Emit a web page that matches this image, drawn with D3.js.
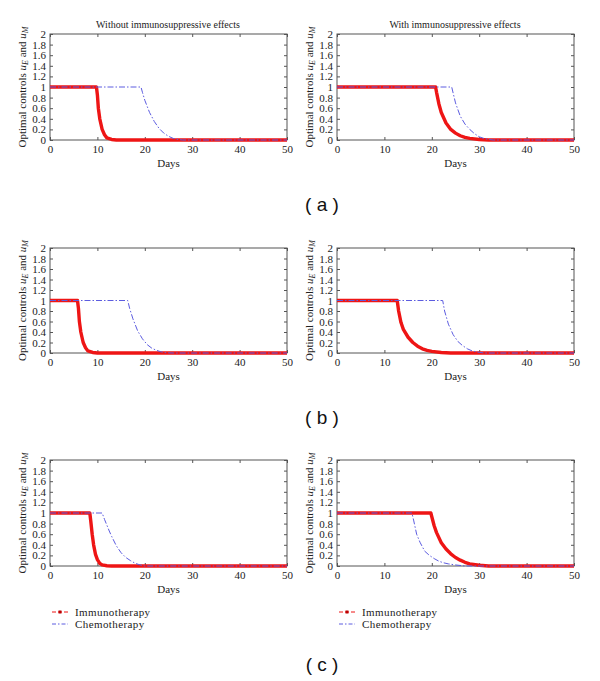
<!DOCTYPE html>
<html>
<head>
<meta charset="utf-8">
<script src="https://cdn.jsdelivr.net/npm/d3@7"></script>
<style>
  html, body { margin: 0; padding: 0; background: #fff; }
  svg { display: block; }
  .tick text { font-family: "Liberation Serif", "DejaVu Serif", serif; font-size: 11px; fill: #222; }
</style>
</head>
<body>
<svg id="chart" width="600" height="681"></svg>
<script>
// ---------- data ----------
const panelTitles = ["Without immunosuppressive effects", "With immunosuppressive effects"];
const rowLabels = ["( a )", "( b )", "( c )"];
const xTicks = [0, 10, 20, 30, 40, 50];
const yTicks = [0, 0.2, 0.4, 0.6, 0.8, 1, 1.2, 1.4, 1.6, 1.8, 2];
const legendLabels = ["Immunotherapy", "Chemotherapy"];

// (a) left
const aLeftImmunoT = [0, 9.8, 10, 10.2, 10.5, 11, 11.5, 12, 13, 14, 50];
const aLeftImmunoU = [1, 1, 0.85, 0.6, 0.4, 0.2, 0.1, 0.04, 0.01, 0, 0];
const aLeftChemoT = [0, 19.2, 19.5, 20, 21, 22, 23, 24, 25, 26, 27, 28, 50];
const aLeftChemoU = [1, 1, 0.9, 0.75, 0.52, 0.35, 0.22, 0.13, 0.07, 0.03, 0.01, 0, 0];
// (a) right
const aRightImmunoT = [0, 20.8, 21, 21.5, 22, 23, 24, 25, 26, 27, 28, 30, 32, 50];
const aRightImmunoU = [1, 1, 0.9, 0.68, 0.52, 0.32, 0.2, 0.13, 0.08, 0.05, 0.03, 0.01, 0, 0];
const aRightChemoT = [0, 24.2, 25, 26, 27, 28, 29, 30, 31, 32, 33, 50];
const aRightChemoU = [1, 1, 0.7, 0.45, 0.3, 0.2, 0.12, 0.06, 0.03, 0.01, 0, 0];
// (b) left
const bLeftImmunoT = [0, 5.8, 6, 6.2, 6.5, 7, 7.5, 8, 9, 10, 50];
const bLeftImmunoU = [1, 1, 0.85, 0.6, 0.4, 0.2, 0.1, 0.04, 0.01, 0, 0];
const bLeftChemoT = [0, 16.4, 16.8, 17.5, 18.5, 19.5, 20.5, 21.5, 22.5, 23.5, 24.5, 26, 50];
const bLeftChemoU = [1, 1, 0.85, 0.65, 0.42, 0.27, 0.16, 0.09, 0.05, 0.02, 0.005, 0, 0];
// (b) right
const bRightImmunoT = [0, 12.7, 13, 13.5, 14, 15, 16, 17, 18, 19, 20, 22, 24, 50];
const bRightImmunoU = [1, 1, 0.8, 0.58, 0.45, 0.3, 0.2, 0.13, 0.08, 0.05, 0.03, 0.01, 0, 0];
const bRightChemoT = [0, 22.3, 22.7, 23.5, 24.5, 25.5, 26.5, 27.5, 28.5, 29.5, 31, 50];
const bRightChemoU = [1, 1, 0.8, 0.55, 0.35, 0.22, 0.14, 0.08, 0.04, 0.02, 0, 0];
// (c) left
const cLeftImmunoT = [0, 8.4, 8.6, 8.9, 9.2, 9.6, 10, 10.5, 11, 12, 13, 50];
const cLeftImmunoU = [1, 1, 0.85, 0.6, 0.4, 0.22, 0.12, 0.05, 0.02, 0.005, 0, 0];
const cLeftChemoT = [0, 11, 11.5, 12, 12.5, 13, 14, 15, 16, 17, 18, 19, 20, 50];
const cLeftChemoU = [1, 1, 0.88, 0.77, 0.66, 0.56, 0.38, 0.25, 0.16, 0.1, 0.05, 0.02, 0, 0];
// (c) right
const cRightImmunoT = [0, 19.8, 20, 20.5, 21, 22, 23, 24, 25, 26, 27, 28, 30, 32, 50];
const cRightImmunoU = [1, 1, 0.93, 0.76, 0.63, 0.44, 0.32, 0.23, 0.16, 0.11, 0.07, 0.04, 0.015, 0, 0];
const cRightChemoT = [0, 15.8, 16.2, 16.8, 17.5, 18.5, 19.5, 20.5, 21.5, 22.5, 23.5, 25, 27, 50];
const cRightChemoU = [1, 1, 0.85, 0.6, 0.45, 0.28, 0.2, 0.14, 0.09, 0.06, 0.04, 0.02, 0, 0];

const seriesGrid = [
  [[aLeftImmunoT, aLeftImmunoU, aLeftChemoT, aLeftChemoU], [aRightImmunoT, aRightImmunoU, aRightChemoT, aRightChemoU]],
  [[bLeftImmunoT, bLeftImmunoU, bLeftChemoT, bLeftChemoU], [bRightImmunoT, bRightImmunoU, bRightChemoT, bRightChemoU]],
  [[cLeftImmunoT, cLeftImmunoU, cLeftChemoT, cLeftChemoU], [cRightImmunoT, cRightImmunoU, cRightChemoT, cRightChemoU]]
];

// ---------- layout ----------
const colX = [[50, 287], [337, 574]];
const rowY = [[34, 140], [248, 353], [460, 566]];
const rowLabelY = [211, 424, 671];
const serif = '"Liberation Serif", "DejaVu Serif", serif';
const sans = '"Liberation Sans", Arial, sans-serif';
const redC = "#ee1515";
const blueC = "#5c5ce0";

const svg = d3.select("#chart");

function zip(ts, us) { return ts.map((t, i) => [t, us[i]]); }

rowY.forEach((ry, r) => {
  colX.forEach((cx, c) => {
    const x = d3.scaleLinear().domain([0, 50]).range(cx);
    const y = d3.scaleLinear().domain([0, 2]).range([ry[1], ry[0]]);
    const g = svg.append("g");

    // frame
    g.append("rect").attr("x", cx[0]).attr("y", ry[0])
      .attr("width", cx[1] - cx[0]).attr("height", ry[1] - ry[0])
      .attr("fill", "none").attr("stroke", "#555").attr("stroke-width", 1);

    // axes (inward ticks)
    g.append("g").attr("transform", `translate(0,${ry[1]})`)
      .call(d3.axisBottom(x).tickValues(xTicks).tickFormat(d3.format("d")).tickSizeInner(-3).tickSizeOuter(0).tickPadding(5));
    g.append("g").attr("transform", `translate(${cx[0]},0)`)
      .call(d3.axisLeft(y).tickValues(yTicks).tickFormat(d => d3.format("")(+d.toFixed(1))).tickSizeInner(-3).tickSizeOuter(0).tickPadding(4));
    g.append("g").attr("transform", `translate(0,${ry[0]})`)
      .call(d3.axisTop(x).tickValues(xTicks).tickFormat("").tickSizeInner(-3).tickSizeOuter(0));
    g.append("g").attr("transform", `translate(${cx[1]},0)`)
      .call(d3.axisRight(y).tickValues(yTicks).tickFormat("").tickSizeInner(-3).tickSizeOuter(0));
    g.selectAll(".domain").remove();
    g.selectAll(".tick line").attr("stroke", "#555");

    // series
    const [iT, iU, cT, cU] = seriesGrid[r][c];
    const line = d3.line().x(d => x(d[0])).y(d => y(d[1]));
    g.append("path").datum(zip(iT, iU)).attr("d", line)
      .attr("fill", "none").attr("stroke", redC).attr("stroke-width", 3.4).attr("stroke-linejoin", "round");
    g.append("path").datum(zip(cT, cU)).attr("d", line)
      .attr("fill", "none").attr("stroke", blueC).attr("stroke-width", 1).attr("stroke-dasharray", "6,2,1.5,2");

    // y label
    const midY = (ry[0] + ry[1]) / 2;
    const yl = g.append("text").attr("transform", `translate(${cx[0] - 24},${midY}) rotate(-90)`)
      .attr("text-anchor", "middle").attr("font-family", serif).attr("font-size", 11).attr("fill", "#222");
    yl.append("tspan").text("Optimal controls ");
    yl.append("tspan").attr("font-style", "italic").text("u");
    yl.append("tspan").attr("font-style", "italic").attr("font-size", 8).attr("dy", 2).text("E");
    yl.append("tspan").attr("dy", -2).text(" and ");
    yl.append("tspan").attr("font-style", "italic").text("u");
    yl.append("tspan").attr("font-style", "italic").attr("font-size", 8).attr("dy", 2).text("M");

    // x label
    g.append("text").attr("x", (cx[0] + cx[1]) / 2).attr("y", ry[1] + 27)
      .attr("text-anchor", "middle").attr("font-family", serif).attr("font-size", 11).attr("fill", "#222").text("Days");

    // titles (row a)
    if (r === 0) {
      g.append("text").attr("x", (cx[0] + cx[1]) / 2 - 0.5).attr("y", ry[0] - 6)
        .attr("text-anchor", "middle").attr("font-family", serif).attr("font-size", 10).attr("fill", "#222").text(panelTitles[c]);
    }

    // legend (row c)
    if (r === 2) {
      const lx = cx[0] + 2;
      const ly = ry[1] + 46;
      const lg = g.append("g");
      lg.append("line").attr("x1", lx).attr("x2", lx + 16).attr("y1", ly).attr("y2", ly)
        .attr("stroke", redC).attr("stroke-width", 1).attr("stroke-dasharray", "4,2");
      lg.append("rect").attr("x", lx + 6.5).attr("y", ly - 1.5).attr("width", 3).attr("height", 3).attr("fill", "#b00");
      lg.append("text").attr("x", lx + 23).attr("y", ly + 4).attr("font-family", serif).attr("font-size", 11)
        .attr("letter-spacing", 0.4).attr("fill", "#222").text(legendLabels[0]);
      lg.append("line").attr("x1", lx).attr("x2", lx + 16).attr("y1", ly + 12).attr("y2", ly + 12)
        .attr("stroke", blueC).attr("stroke-width", 1).attr("stroke-dasharray", "4,2,1.5,2");
      lg.append("text").attr("x", lx + 23).attr("y", ly + 16).attr("font-family", serif).attr("font-size", 11)
        .attr("letter-spacing", 0.4).attr("fill", "#222").text(legendLabels[1]);
    }
  });

  svg.append("text").attr("x", 322).attr("y", rowLabelY[r]).attr("text-anchor", "middle")
    .attr("font-family", sans).attr("font-size", 19).attr("fill", "#111")
    .attr("xml:space", "preserve").text(rowLabels[r]);
});
</script>
</body>
</html>
